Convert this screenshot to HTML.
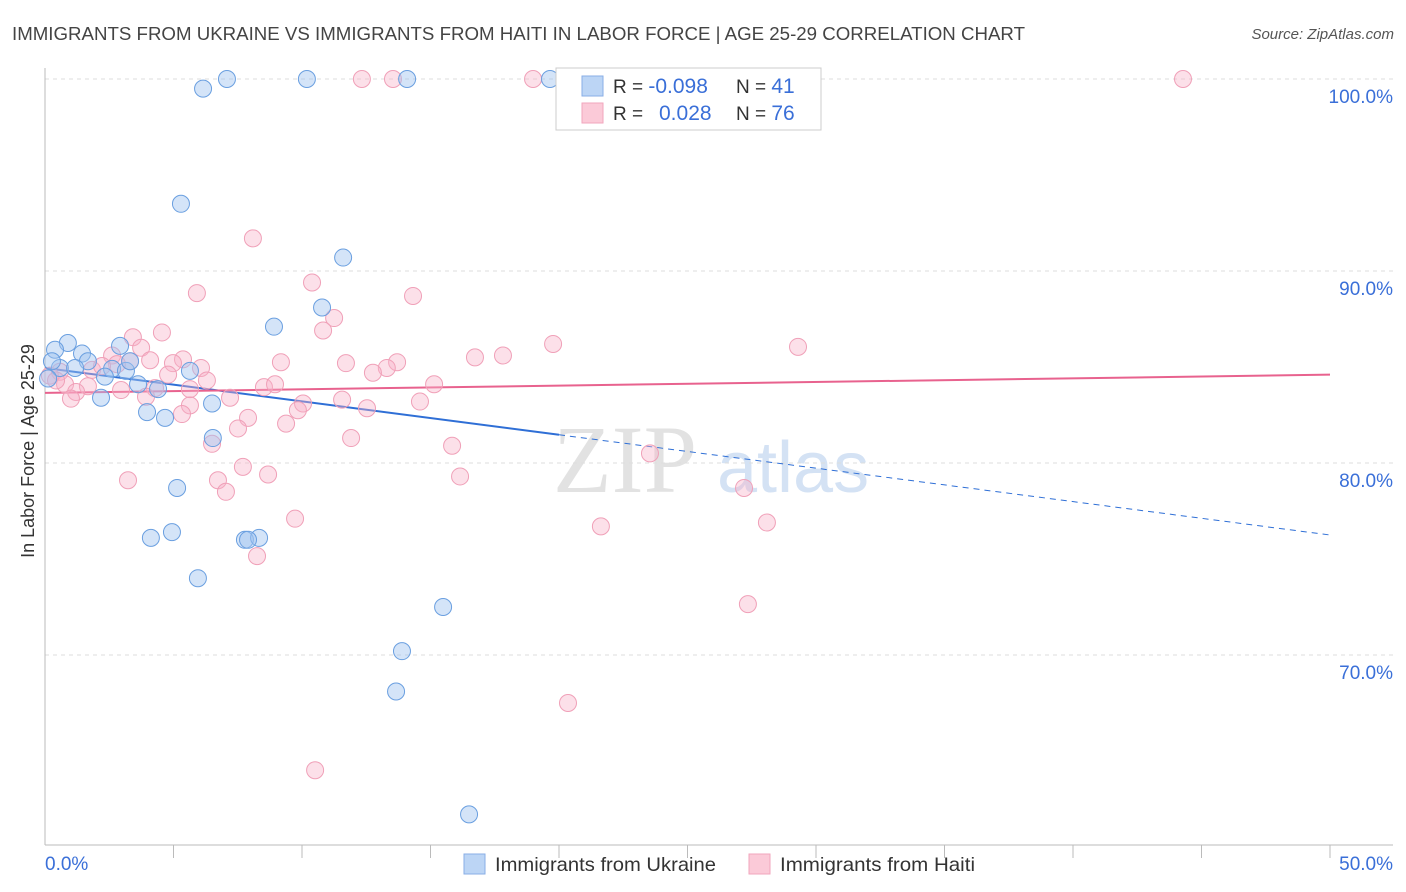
<!DOCTYPE html>
<html><head><meta charset="utf-8">
<style>
body{margin:0;background:#fff;font-family:"Liberation Sans",sans-serif;}
svg{display:block}
</style></head>
<body>
<svg id="chart" width="1406" height="892">
<text x="12" y="40" font-size="18.5" fill="#444" textLength="1013" lengthAdjust="spacingAndGlyphs">IMMIGRANTS FROM UKRAINE VS IMMIGRANTS FROM HAITI IN LABOR FORCE | AGE 25-29 CORRELATION CHART</text>
<text x="1394" y="39" font-size="15" fill="#555" font-style="italic" text-anchor="end">Source: ZipAtlas.com</text>
<g>
<text x="553" y="492" font-size="96" font-family="Liberation Serif,serif" fill="#e2e2e2">ZIP</text>
<text x="717" y="492" font-size="72" fill="#d4e2f4">atlas</text>
</g>
<g id="grid"></g>
<g id="axes"></g>
<g id="trends"></g>
<g id="points"></g>
<g>
<rect x="556" y="68" width="265" height="62" fill="#fff" stroke="#ccc"/>
<rect x="582" y="76" width="21" height="20" fill="#bcd5f5" stroke="#88aee6"/>
<rect x="582" y="103" width="21" height="20" fill="#fbcad8" stroke="#f2a6bd"/>
<text x="613" y="93" font-size="19" fill="#333">R = <tspan fill="#3a6fd8" font-size="21">-0.098</tspan></text>
<text x="736" y="93" font-size="19" fill="#333">N = <tspan fill="#3a6fd8" font-size="21">41</tspan></text>
<text x="613" y="120" font-size="19" fill="#333">R = <tspan fill="#3a6fd8" x="659" font-size="21">0.028</tspan></text>
<text x="736" y="120" font-size="19" fill="#333">N = <tspan fill="#3a6fd8" font-size="21">76</tspan></text>
</g>
<g>
<rect x="464" y="854" width="21" height="20" fill="#bcd5f5" stroke="#88aee6"/>
<text x="495" y="871" font-size="19.5" fill="#333" textLength="221" lengthAdjust="spacingAndGlyphs">Immigrants from Ukraine</text>
<rect x="749" y="854" width="21" height="20" fill="#fbcad8" stroke="#f2a6bd"/>
<text x="780" y="871" font-size="19.5" fill="#333" textLength="195" lengthAdjust="spacingAndGlyphs">Immigrants from Haiti</text>
</g>
<text x="41" y="458" font-size="18" fill="#333" text-anchor="middle" transform="rotate(-90 34 458)">In Labor Force | Age 25-29</text>
</svg>
<script>
const yTicks=[100,90,80,70];
const yTickLabels=["100.0%","90.0%","80.0%","70.0%"];
const xTickLabels=["0.0%","50.0%"];
const ukX=[7.08,10.19,14.09,19.65,6.15,5.29,11.6,10.78,8.91,0.89,0.39,1.44,2.92,1.67,2.61,3.15,5.64,0.58,0.27,2.33,3.62,4.4,2.18,6.5,3.97,4.67,6.53,5.14,4.94,4.12,7.78,8.33,7.9,5.95,15.49,13.89,13.66,16.5,0.12,1.17,3.31];
const ukY=[100,100,100,100,99.5,93.5,90.7,88.1,87.1,86.25,85.9,85.7,86.1,85.3,84.9,84.8,84.8,84.95,85.3,84.5,84.1,83.85,83.4,83.1,82.65,82.35,81.3,78.7,76.4,76.1,76.0,76.1,76.0,74.0,72.5,70.2,68.1,61.7,84.4,84.95,85.3];
const htX=[12.33,13.54,18.99,44.28,8.09,5.91,10.39,14.32,11.25,10.82,4.55,3.42,19.77,29.3,3.74,17.82,16.73,2.61,4.09,5.37,4.98,6.07,9.18,11.71,13.7,13.3,12.76,2.8,0.58,0.19,1.83,4.79,6.3,0.78,1.67,1.21,2.96,4.28,8.52,8.95,15.14,1.01,3.93,7.2,11.56,5.64,10.04,9.84,12.53,14.59,5.33,7.9,9.38,7.51,11.91,6.5,15.84,23.54,7.7,3.23,8.68,16.15,6.73,7.04,27.2,9.73,21.63,28.09,8.25,27.35,20.35,10.51,3.31,2.22,0.43,5.64];
const htY=[100,100,100,100,91.7,88.85,89.4,88.7,87.55,86.9,86.8,86.55,86.2,86.05,86.0,85.6,85.5,85.6,85.35,85.4,85.2,84.95,85.25,85.2,85.25,84.95,84.7,85.15,84.75,84.55,84.85,84.6,84.3,84.1,84.0,83.7,83.8,83.9,83.95,84.1,84.1,83.35,83.45,83.4,83.3,83.0,83.1,82.75,82.85,83.2,82.55,82.35,82.05,81.8,81.3,81.0,80.9,80.5,79.8,79.1,79.4,79.3,79.1,78.5,78.7,77.1,76.7,76.9,75.15,72.65,67.5,64.0,85.3,85.05,84.3,83.85];
const ukTrend=[84.95,76.25];
const htTrend=[83.65,84.6];
const ukSolidEnd=20;

const X=v=>45+v*25.7;
const Y=v=>79+(100-v)*19.2;
const NS="http://www.w3.org/2000/svg";
function mk(tag,attrs,parent){const e=document.createElementNS(NS,tag);for(const k in attrs)e.setAttribute(k,attrs[k]);document.getElementById(parent).appendChild(e);return e;}

yTicks.forEach((t,i)=>{
  const g=mk('line',{x1:45,x2:1393,y1:Y(t),y2:Y(t),stroke:'#ddd','stroke-dasharray':'4,4'},'grid');
  
  
  const l=mk('text',{x:1393,y:Y(t)+24,'font-size':19,fill:'#3a6fd8','text-anchor':'end'},'grid');
  l.textContent=yTickLabels[i];
  
  
});
let ax=mk('line',{x1:45,x2:45,y1:68,y2:845,stroke:'#bbb'},'axes');


ax=mk('line',{x1:45,x2:1393,y1:845,y2:845,stroke:'#bbb'},'axes');


for(let i=1;i<=10;i++){
  const tk=mk('line',{x1:X(i*5),x2:X(i*5),y1:845,y2:858,stroke:'#bbb'},'axes');
  
  
}
[[0,'start',45],[50,'end',1393]].forEach((d,i)=>{
  const t=mk('text',{x:d[2],y:870,'font-size':19,fill:'#3a6fd8','text-anchor':d[1]},'axes');
  t.textContent=xTickLabels[i];
  
  
});
const uy=x=>ukTrend[0]+(ukTrend[1]-ukTrend[0])*x/50;
let tl=mk('line',{x1:X(0),y1:Y(uy(0)),x2:X(ukSolidEnd),y2:Y(uy(ukSolidEnd)),stroke:'#2f6fd6','stroke-width':2},'trends');


tl=mk('line',{x1:X(ukSolidEnd),y1:Y(uy(ukSolidEnd)),x2:X(50),y2:Y(uy(50)),stroke:'#2f6fd6','stroke-width':1,'stroke-dasharray':'6,5'},'trends');


tl=mk('line',{x1:X(0),y1:Y(htTrend[0]),x2:X(50),y2:Y(htTrend[1]),stroke:'#e8628e','stroke-width':2},'trends');


htX.forEach((x,i)=>{
  const c=mk('circle',{cx:X(x),cy:Y(htY[i]),r:8.5,fill:'rgba(247,178,200,0.4)',stroke:'#f0a0b8','stroke-width':1},'points');
  
  
});
ukX.forEach((x,i)=>{
  const c=mk('circle',{cx:X(x),cy:Y(ukY[i]),r:8.5,fill:'rgba(160,196,240,0.45)',stroke:'#6a9fe0','stroke-width':1},'points');
  
  
});
</script>
</body></html>
